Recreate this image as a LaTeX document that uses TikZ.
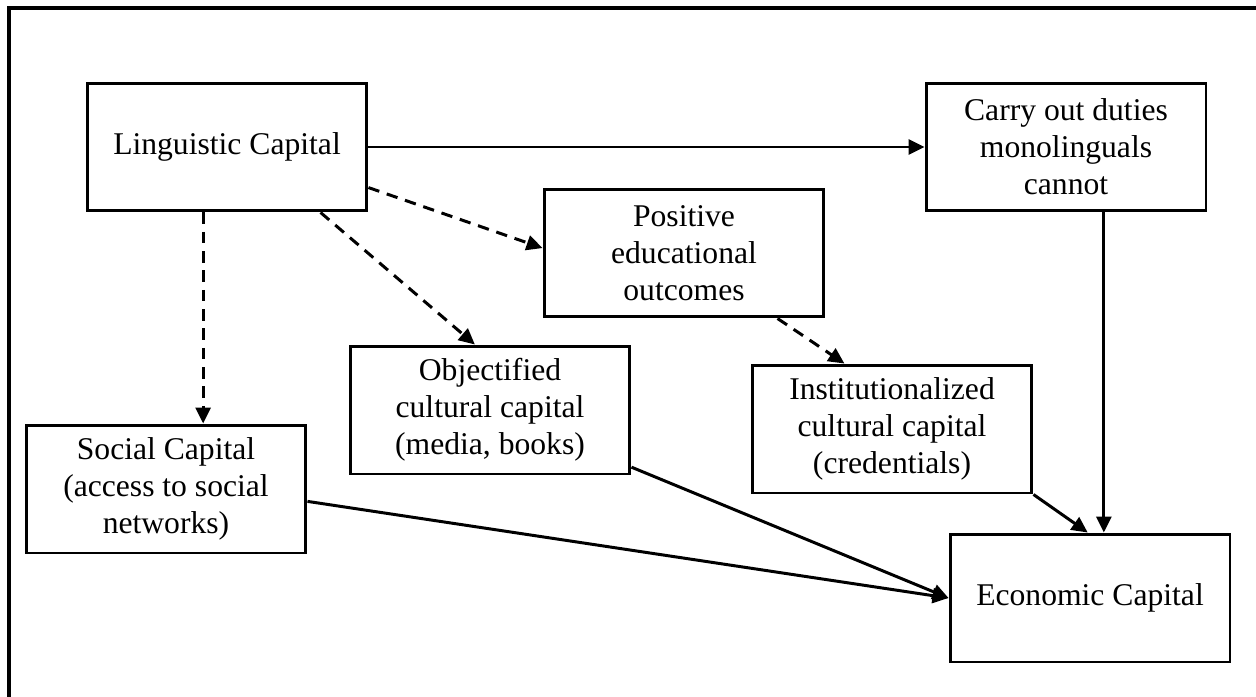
\documentclass[tikz,border=0pt]{standalone}
\usepackage{fontspec}
\setmainfont{Liberation Serif}
\usepackage{tikz}
\usetikzlibrary{arrows.meta}

\begin{document}
\begin{tikzpicture}[x=0.02cm,y=-0.02cm,
  box/.style={draw,line width=1.7pt,minimum width=5.6cm,minimum height=2.56cm,
    inner sep=0pt,align=center,font=\fontsize{18}{21}\selectfont},
  lnk/.style={line width=1.7pt,-{Triangle[length=0.32cm,width=0.3cm]}},
  dlnk/.style={lnk,dash pattern=on 6.5pt off 4.5pt}]
\useasboundingbox (0,0) rectangle (1256,696);
% frame, cut off at the right and bottom
\draw[line width=1.8pt] (1260,8) -- (9,8) -- (9,700);
% boxes
\node[box] (ling) at (227,147) {Linguistic Capital};
\node[box] (carry) at (1066,147) {Carry out duties\\monolinguals\\cannot};
\node[box] (pos) at (684,253) {Positive\\educational\\outcomes};
\node[box] (obj) at (490,410) {Objectified\\cultural capital\\(media, books)};
\node[box] (soc) at (166,489) {Social Capital\\(access to social\\networks)};
\node[box] (inst) at (892,429) {Institutionalized\\cultural capital\\(credentials)};
\node[box] (econ) at (1090,598) {Economic Capital};
% links
\draw[lnk] (ling.east) -- (carry.west);
\draw[dlnk] (ling.250) -- (ling.250 |- soc.north);
\draw[dlnk] (ling.-16) -- (pos.178);
\draw[dlnk] (ling.-35) -- (obj.103);
\draw[dlnk] (pos.-35) -- (inst.126);
\draw[lnk] (carry.-60) -- (carry.-60 |- econ.north);
\draw[lnk] (inst.south east) -- (econ.92);
\draw[lnk] (obj.-22) -- (econ.west);
\draw[lnk] (soc.-5) -- (econ.west);
\end{tikzpicture}
\end{document}
